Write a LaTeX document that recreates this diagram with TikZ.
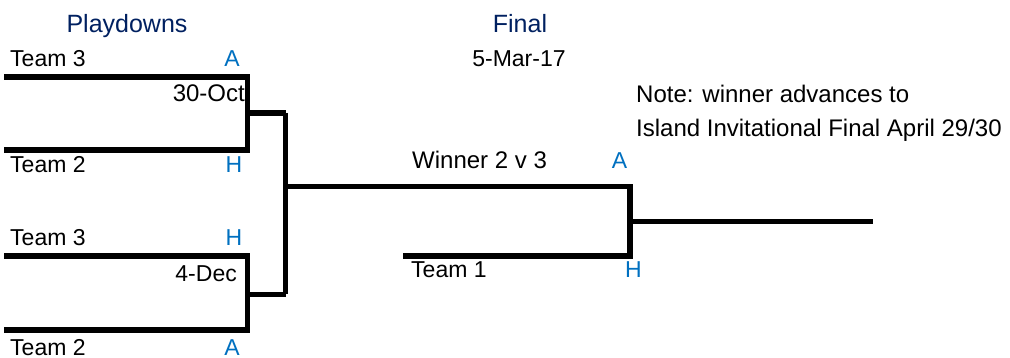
\documentclass[tikz,border=0pt]{standalone}
\usepackage{fontspec}
\setmainfont{Liberation Sans}
\definecolor{navy}{HTML}{002060}
\definecolor{hablue}{HTML}{0070C0}
\begin{document}
\begin{tikzpicture}[x=1pt,y=-1pt,
  lbl/.style={inner sep=0pt,font=\fontsize{23}{27}\selectfont},
  lblb/.style={inner sep=0pt,font=\fontsize{24}{28}\selectfont},
  head/.style={inner sep=0pt,font=\fontsize{25}{29}\selectfont,text=navy},
  ha/.style={inner sep=0pt,font=\fontsize{23}{27}\selectfont,text=hablue},
  brk/.style={line width=5.5pt,line join=miter,line cap=butt}]
\useasboundingbox (0,0) rectangle (1010,358);
% coordinates
\coordinate (l1s) at (4,77);   \coordinate (v1t) at (247.5,77);
\coordinate (l2s) at (4,150);  \coordinate (v1b) at (247.5,150);
\coordinate (m1) at (247.5,113); \coordinate (m1e) at (285.5,113);
\coordinate (l3s) at (4,256);  \coordinate (v2t) at (247.5,256);
\coordinate (l4s) at (4,330);  \coordinate (v2b) at (247.5,330);
\coordinate (m2) at (247.5,294.5); \coordinate (m2e) at (285.5,294.5);
\coordinate (mid) at (285.5,186.5); \coordinate (ft) at (630,186.5);
\coordinate (t1s) at (403,256); \coordinate (fb) at (630,256);
\coordinate (fo) at (630,221.5); \coordinate (foe) at (873,221.5);
% brackets
\draw[brk] (l1s) -- (v1t) -- (v1b) -- (l2s);
\draw[brk] (m1) -- (m1e);
\draw[brk] (l3s) -- (v2t) -- (v2b) -- (l4s);
\draw[brk] (m2) -- (m2e);
\draw[brk] (m1e) -- (m2e);
\draw[brk] (mid) -- (ft) -- (fb) -- (t1s);
\draw[brk] (fo) -- (foe);
% texts
\node[head,anchor=base] (hp) at (127,33) {Playdowns};
\node[head,anchor=base] (hf) at (520,33) {Final};
\node[lbl,anchor=base] (d3) at (519,67) {5-Mar-17};
\node[lbl,anchor=base west] (ta) at (10,67) {Team 3};
\node[ha,anchor=base] (ha1) at (232,67) {A};
\node[lblb,anchor=base east] (d1) at (245,102) {30-Oct};
\node[lbl,anchor=base west] (tb) at (10,173) {Team 2};
\node[ha,anchor=base] (hh1) at (234,173) {H};
\node[lbl,anchor=base west] (tc) at (10,246) {Team 3};
\node[ha,anchor=base] (hh2) at (234,246) {H};
\node[lbl,anchor=base east] (d2) at (237,282) {4-Dec};
\node[lbl,anchor=base west] (td) at (10,355) {Team 2};
\node[ha,anchor=base] (ha2) at (232,355) {A};
\node[lblb,anchor=base west] (n1) at (636,103) {Note: winner advances to};
\node[lblb,anchor=base west] (n2) at (636,137) {Island Invitational Final April 29/30};
\node[lblb,anchor=base west] (w) at (412,169) {Winner 2 v 3};
\node[ha,anchor=base] (ha3) at (619.5,169) {A};
\node[lbl,anchor=base west] (t1) at (411,278) {Team 1};
\node[ha,anchor=base] (hh3) at (633.5,278) {H};
\end{tikzpicture}
\end{document}
